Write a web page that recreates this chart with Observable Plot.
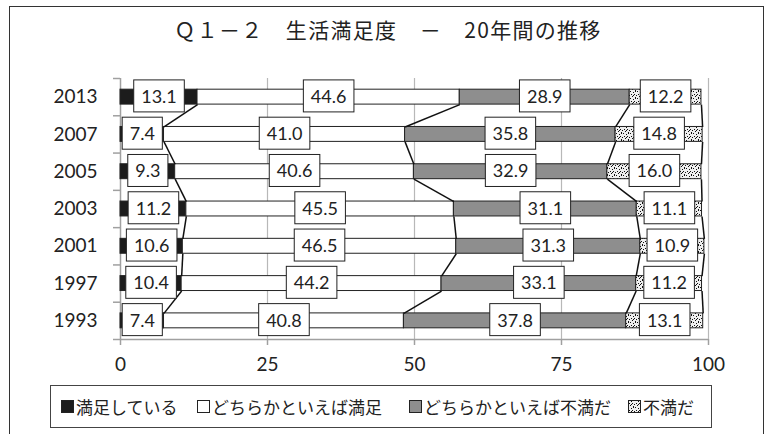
<!DOCTYPE html>
<html><head><meta charset="utf-8">
<script src="https://cdn.jsdelivr.net/npm/d3@7"></script>
<script src="https://cdn.jsdelivr.net/npm/@observablehq/plot@0.6"></script>
<style>
body{margin:0;background:#fff;width:768px;height:434px;overflow:hidden;position:relative;font-family:"Noto Sans CJK JP",sans-serif;color:#222;}
#frame{position:absolute;left:9px;top:6px;width:755px;height:450px;border:1.5px solid #333;box-sizing:border-box;}
#title{position:absolute;left:4px;top:14px;width:768px;text-align:center;font-size:21px;letter-spacing:1.3px;line-height:30px;color:#222;}
#chart{position:absolute;left:0;top:0;}
#legend{position:absolute;left:50px;top:385px;width:662px;height:43px;border:1px solid #444;box-sizing:border-box;font-size:17px;}
.item{position:absolute;top:0;height:41px;display:flex;align-items:center;white-space:nowrap;}
.item svg{margin-right:2px;}
</style></head><body>
<div id="frame"></div>
<div id="chart"></div>
<div id="title"></div>
<div id="legend"></div>
<script>
const titleText = "Ｑ１－２　生活満足度　－　20年間の推移";
const years = ["2013","2007","2005","2003","2001","1997","1993"];
const categories = ["満足している","どちらかといえば満足","どちらかといえば不満だ","不満だ"];
const satisfied            = [13.1, 7.4, 9.3, 11.2, 10.6, 10.4, 7.4];
const somewhatSatisfied    = [44.6, 41.0, 40.6, 45.5, 46.5, 44.2, 40.8];
const somewhatDissatisfied = [28.9, 35.8, 32.9, 31.1, 31.3, 33.1, 37.8];
const dissatisfied         = [12.2, 14.8, 16.0, 11.1, 10.9, 11.2, 13.1];
const xTicks = [0, 25, 50, 75, 100];
const fills = ["#1c1c1c", "#ffffff", "#8e8e8e", "url(#stip)"];
const legendLeft = [10, 146, 358, 577];

const series = [satisfied, somewhatSatisfied, somewhatDissatisfied, dissatisfied];
const half = 0.2;

const rows = [];
const cum = years.map(() => [0]);
years.forEach((yr, i) => {
  let acc = 0;
  series.forEach((s, k) => {
    rows.push({year: yr, i, cat: categories[k], k, value: s[i], x1: acc, x2: acc + s[i]});
    acc += s[i];
    cum[i].push(acc);
  });
});
const links = [];
for (let k = 1; k <= series.length; k++) {
  for (let i = 0; i < years.length - 1; i++) {
    links.push({x1: cum[i][k], y1: i + half, x2: cum[i + 1][k], y2: i + 1 - half});
  }
}
const idx = years.map((d, i) => i);
const bounds = [-0.5, ...idx.map(i => i + 0.5)];

const plot = Plot.plot({
  width: 768, height: 380,
  marginTop: 78, marginBottom: 41, marginLeft: 120, marginRight: 60,
  style: {fontFamily: "Lato, 'Open Sans', sans-serif", fontSize: "19px", color: "#222", background: "transparent"},
  x: {domain: [0, 100], label: null},
  y: {domain: [-0.5, years.length - 0.5], reverse: true, label: null},
  color: {type: "ordinal", domain: categories, range: fills},
  marks: [
    Plot.ruleX(xTicks.filter(t => t > 0), {stroke: "#b8b8b8", strokeWidth: 1.2}),
    Plot.ruleX([0], {stroke: "#a0a0a0", strokeWidth: 1.5}),
    Plot.ruleY([years.length - 0.5], {x1: 0, x2: 100, stroke: "#a0a0a0", strokeWidth: 1.5}),
    Plot.axisX(xTicks, {tickSize: 6, tickPadding: 12, stroke: "#a0a0a0", strokeWidth: 1.5, label: null, fontSize: 19}),
    Plot.axisY(bounds, {tickSize: 7, tickFormat: () => "", stroke: "#a0a0a0", strokeWidth: 1.5, label: null}),
    Plot.axisY(idx, {tickSize: 0, tickPadding: 23, tickFormat: i => years[i], label: null, fontSize: 19}),
    Plot.rectX(rows, {x1: "x1", x2: "x2", y1: d => d.i - half, y2: d => d.i + half, fill: "cat", stroke: "#222", strokeWidth: 1}),
    Plot.link(links, {x1: "x1", y1: "y1", x2: "x2", y2: "y2", stroke: "#111", strokeWidth: 1.5}),
    Plot.text(rows, {x: d => (d.x1 + d.x2) / 2, y: "i", text: d => d.value.toFixed(1), fontSize: 18, fill: "#222"})
  ]
});
document.getElementById("chart").appendChild(plot);

const svg = d3.select(plot);
const defs = svg.insert("defs", ":first-child");
const pat = defs.append("pattern").attr("id", "stip").attr("width", 7).attr("height", 7).attr("patternUnits", "userSpaceOnUse");
pat.append("rect").attr("width", 7).attr("height", 7).attr("fill", "#efefef");
[[0,0],[3,1],[5,0],[1,3],[4,3],[6,4],[2,5],[5,6],[3,4]].forEach(([x, y]) =>
  pat.append("rect").attr("x", x).attr("y", y).attr("width", 1).attr("height", 1).attr("fill", "#111"));

// white bordered boxes behind the value labels
svg.selectAll("g[aria-label='text'] text").each(function() {
  const b = this.getBBox();
  const r = document.createElementNS("http://www.w3.org/2000/svg", "rect");
  r.setAttribute("x", b.x - 7.5);
  r.setAttribute("y", b.y + b.height / 2 - 16);
  r.setAttribute("width", b.width + 15);
  r.setAttribute("height", 32);
  r.setAttribute("fill", "#fff");
  r.setAttribute("stroke", "#222");
  r.setAttribute("stroke-width", 1);
  const tr = this.getAttribute("transform");
  if (tr) r.setAttribute("transform", tr);
  this.parentNode.insertBefore(r, this);
});

document.getElementById("title").textContent = titleText;

const legend = d3.select("#legend");
categories.forEach((c, k) => {
  const it = legend.append("div").attr("class", "item").style("left", legendLeft[k] + "px");
  const s = it.append("svg").attr("width", 13).attr("height", 13);
  s.append("rect").attr("x", 0.5).attr("y", 0.5).attr("width", 12).attr("height", 12)
    .attr("fill", fills[k]).attr("stroke", "#222").attr("stroke-width", 1);
  it.append("span").text(c);
});
</script>
</body></html>
